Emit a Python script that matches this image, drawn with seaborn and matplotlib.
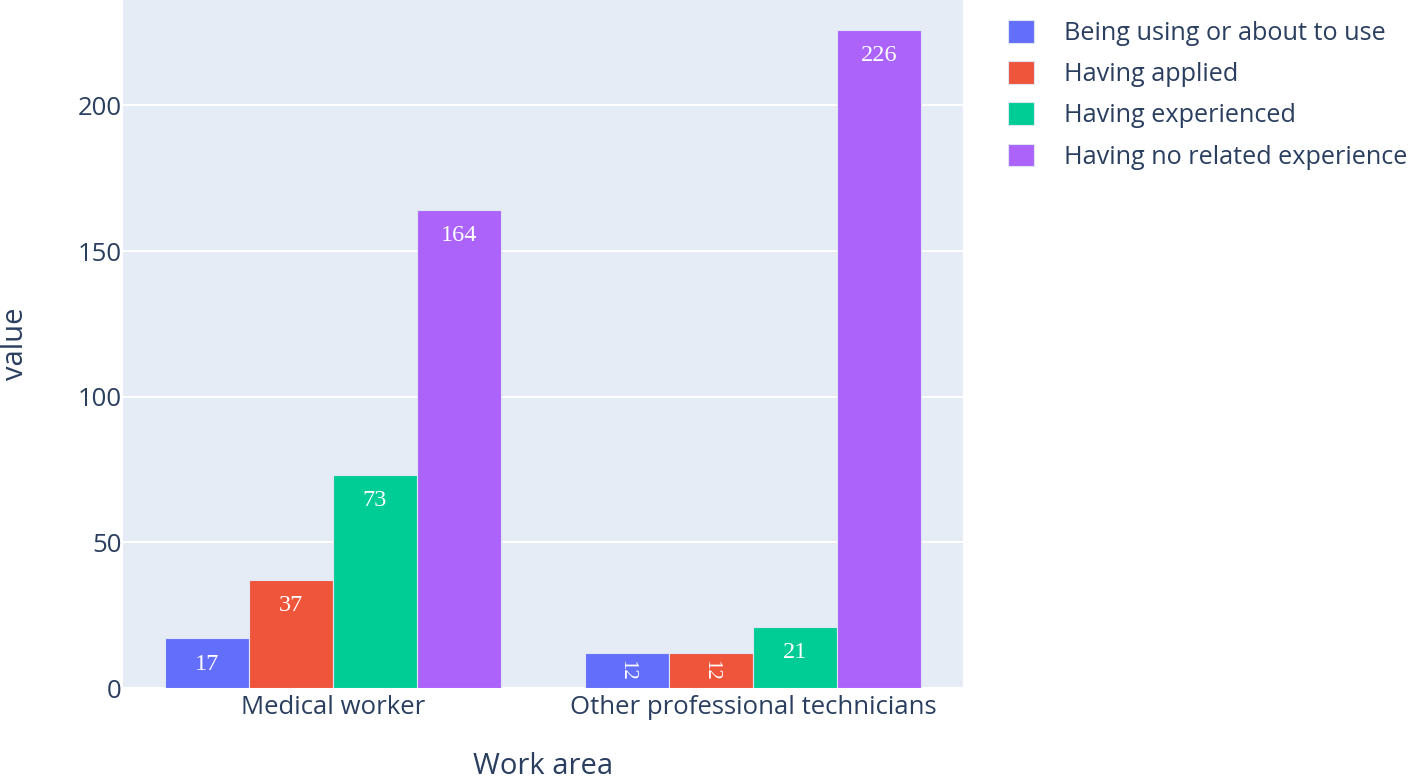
import matplotlib
matplotlib.use("Agg")
import matplotlib.pyplot as plt
import seaborn as sns
import pandas as pd

work_areas = ["Medical worker", "Other professional technicians"]
statuses = ["Being using or about to use", "Having applied", "Having experienced", "Having no related experience"]
medical_values = [17, 37, 73, 164]
other_values = [12, 12, 21, 226]
colors = ["#636EFA", "#EF553B", "#00CC96", "#AB63FA"]
y_ticks = [0, 50, 100, 150, 200]

rows = []
for s, v in zip(statuses, medical_values):
    rows.append({"Work area": work_areas[0], "status": s, "value": v})
for s, v in zip(statuses, other_values):
    rows.append({"Work area": work_areas[1], "status": s, "value": v})
df = pd.DataFrame(rows)

sns.set_theme(style="darkgrid")
plt.rcParams["font.family"] = ["Open Sans", "DejaVu Sans"]
text_color = "#2a3f5f"

fig = plt.figure(figsize=(14.18, 7.79), dpi=100)
ax = fig.add_axes([123 / 1418, 1 - 688 / 779, 840 / 1418, 688 / 779])
ax.set_facecolor("#E5ECF6")

sns.barplot(data=df, x="Work area", y="value", hue="status", hue_order=statuses,
            palette=colors, width=0.8, saturation=1, ax=ax,
            edgecolor="#dfe6f3", linewidth=0.8, legend=True)

small_limit = 15
for cont in ax.containers:
    vals = list(cont.datavalues)
    labels = [f"{v:.0f}" if v >= small_limit else "" for v in vals]
    ax.bar_label(cont, labels=labels, padding=-26, color="white", fontsize=17.5,
                 family="Liberation Serif")
    for patch, v in zip(cont.patches, vals):
        if v < small_limit:
            ax.text(patch.get_x() + patch.get_width() / 2, patch.get_height() / 2,
                    f"{v:.0f}", rotation=-90, ha="center", va="center",
                    color="white", fontsize=15, family="Liberation Serif")

ax.set_ylim(0, 236.2)
ax.set_xlim(-0.5, 1.5)
ax.set_yticks(y_ticks)
ax.grid(axis="y", color="white", linewidth=1.5)
ax.grid(axis="x", visible=False)
ax.set_axisbelow(True)
for sp in ax.spines.values():
    sp.set_visible(False)
ax.tick_params(axis="both", length=0, labelsize=18.5, colors=text_color)
ax.tick_params(axis="y", pad=1)
ax.tick_params(axis="x", pad=5)
ax.set_ylabel("value", fontsize=21, color=text_color, labelpad=34)
ax.set_xlabel("Work area", fontsize=21, color=text_color, labelpad=23)

handles, labels = ax.get_legend_handles_labels()
ax.legend(handles, labels, loc="upper left", bbox_to_anchor=(1.03, 1.0),
          frameon=False, fontsize=18.2, labelcolor=text_color,
          handlelength=1.0, handleheight=1.0, handletextpad=1.2,
          borderaxespad=0.4, labelspacing=0.6)

fig.savefig("out.png", dpi=100, facecolor="white")
